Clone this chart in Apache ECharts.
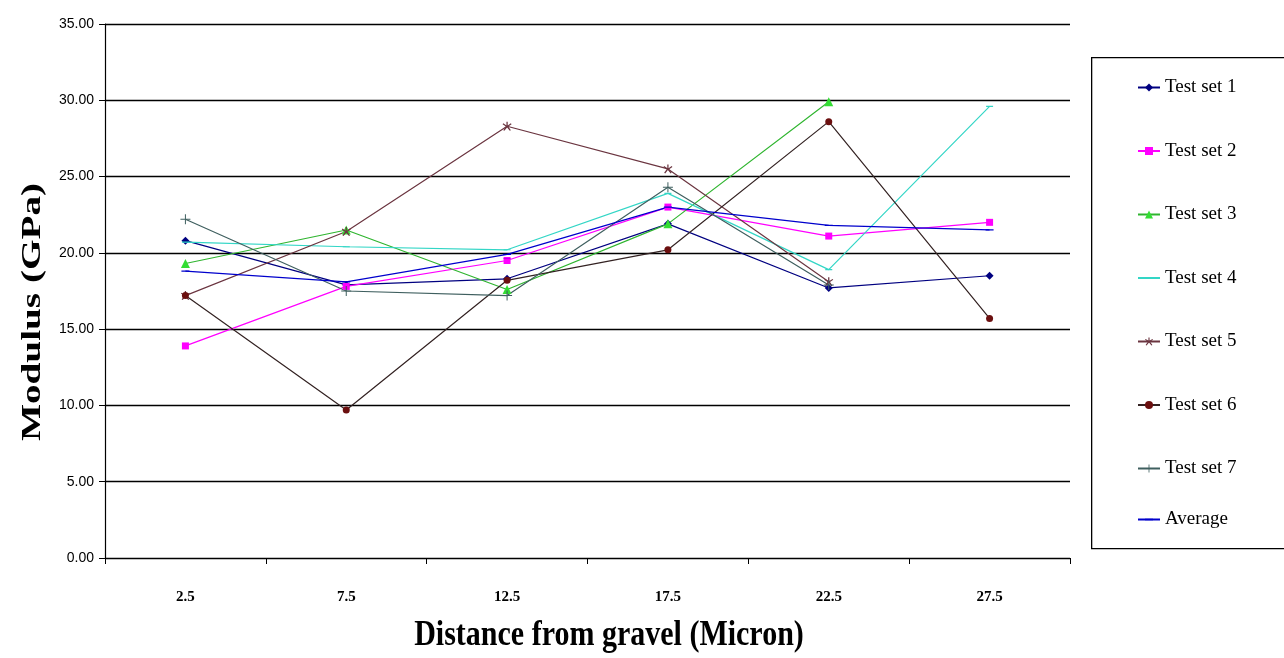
<!DOCTYPE html>
<html>
<head>
<meta charset="utf-8">
<title>Modulus vs distance from gravel</title>
<script src="https://cdn.jsdelivr.net/npm/echarts@6/dist/echarts.min.js"></script>
<style>
  html, body { margin: 0; padding: 0; background: #ffffff; }
  #chart { width: 1284px; height: 658px; }
</style>
</head>
<body>
<div id="chart"></div>
<script>
// Distance from gravel (micron) and modulus readings (GPa) per test set
const distances = ['2.5', '7.5', '12.5', '17.5', '22.5', '27.5'];
const testSet1 = [20.8, 17.9, 18.3, 21.9, 17.7, 18.5];
const testSet2 = [13.9, 17.8, 19.5, 23.0, 21.1, 22.0];
const testSet3 = [19.3, 21.5, 17.6, 21.9, 29.9, null];
const testSet4 = [20.7, 20.4, 20.2, 23.9, 18.9, 29.6];
const testSet5 = [17.2, 21.4, 28.3, 25.5, 18.1, null];
const testSet6 = [17.2, 9.7, 18.2, 20.2, 28.6, 15.7];
const testSet7 = [22.2, 17.5, 17.2, 24.3, 17.9, null];
const average  = [18.8, 18.1, 19.9, 23.0, 21.8, 21.5];

const seriesNames = ['Test set 1', 'Test set 2', 'Test set 3', 'Test set 4', 'Test set 5', 'Test set 6', 'Test set 7', 'Average'];

const serif = "'Liberation Serif', 'Times New Roman', serif";
const narrowSans = "'Liberation Sans Narrow', 'Liberation Sans', Arial, sans-serif";

// Marker shapes (each path spans a 10x10 box so it keeps its proportions)
const plusPath = 'path://M-0.5,-5H0.5V-0.5H5V0.5H0.5V5H-0.5V0.5H-5V-0.5H-0.5Z';
const starPath = 'path://M-0.6,-5H0.6V-1.2L3.6,-3.4L4.3,-2.5L1.2,-0.2L3.6,3.6L2.6,4.2L0,0.8L-2.6,4.2L-3.6,3.6L-1.2,-0.2L-4.3,-2.5L-3.6,-3.4L-0.6,-1.2Z';
const dashPath = 'path://M-5,-5H5V-4.99H-5Z M-5,-0.8H5V0.8H-5Z M-5,4.99H5V5H-5Z';

function lineSeries(name, data, lineColor, markerColor, symbol, size) {
  return {
    name: name,
    type: 'line',
    data: data,
    symbol: symbol,
    symbolSize: size,
    showAllSymbol: true,
    connectNulls: false,
    lineStyle: { color: lineColor, width: 1.2 },
    itemStyle: { color: markerColor, borderWidth: 0 },
    emphasis: { disabled: true },
    animation: false
  };
}

const legendText = { fontFamily: serif, fontSize: 19, color: '#000', lineHeight: 19 };

const chart = echarts.init(document.getElementById('chart'), null, { renderer: 'canvas' });

chart.setOption({
  backgroundColor: '#ffffff',
  animation: false,
  grid: { left: 105, right: 214, top: 24, bottom: 100 },
  xAxis: {
    type: 'category',
    data: distances,
    boundaryGap: true,
    axisLine: { lineStyle: { color: '#000', width: 1.2 } },
    axisTick: { show: true, alignWithLabel: false, length: 6, lineStyle: { color: '#000' } },
    axisLabel: { fontFamily: serif, fontWeight: 'bold', fontSize: 15, color: '#000', margin: 32 },
    splitLine: { show: false }
  },
  yAxis: {
    type: 'value',
    min: 0,
    max: 35,
    interval: 5,
    axisLine: { show: true, lineStyle: { color: '#000', width: 1.2 } },
    axisTick: { show: true, inside: false, length: 6, lineStyle: { color: '#000' } },
    axisLabel: {
      fontFamily: narrowSans, fontSize: 14, color: '#000', margin: 11,
      formatter: function (v) { return v.toFixed(2); }
    },
    splitLine: { show: true, lineStyle: { color: '#000', width: 1.4 } }
  },
  legend: [{
    orient: 'vertical',
    left: 1137,
    top: 78,
    padding: 0,
    itemGap: 44.5,
    itemWidth: 22,
    itemHeight: 10,
    selectedMode: false,
    textStyle: legendText,
    data: seriesNames.slice(0, 7)
  }, {
    orient: 'vertical',
    left: 1137,
    top: 510,
    padding: 0,
    itemWidth: 22,
    itemHeight: 10,
    selectedMode: false,
    textStyle: legendText,
    data: seriesNames.slice(7)
  }],
  graphic: [
    {
      type: 'rect',
      left: 1091,
      top: 57,
      shape: { width: 240, height: 491 },
      style: { fill: 'transparent', stroke: '#000', lineWidth: 1.3 },
      silent: true,
      z: 0
    },
    {
      // vertical axis title
      type: 'text',
      x: 33,
      y: 312,
      rotation: Math.PI / 2,
      scaleX: 1.4,
      silent: true,
      style: {
        text: 'Modulus (GPa)',
        fontFamily: serif, fontWeight: 'bold', fontSize: 28, fill: '#000',
        align: 'center', verticalAlign: 'middle'
      }
    },
    {
      // horizontal axis title
      type: 'text',
      x: 609,
      y: 636,
      scaleY: 1.2,
      silent: true,
      style: {
        text: 'Distance from gravel (Micron)',
        fontFamily: serif, fontWeight: 'bold', fontSize: 30, fill: '#000',
        align: 'center', verticalAlign: 'middle'
      }
    }
  ],
  series: [
    lineSeries('Test set 1', testSet1, '#000080', '#000080', 'diamond', 8),
    lineSeries('Test set 2', testSet2, '#ff00ff', '#ff00ff', 'rect', 7),
    lineSeries('Test set 3', testSet3, '#2fb52f', '#33dd33', 'triangle', 9),
    lineSeries('Test set 4', testSet4, '#33d6c6', '#33d6c6', dashPath, 7),
    lineSeries('Test set 5', testSet5, '#6b3540', '#6b3540', starPath, 9),
    lineSeries('Test set 6', testSet6, '#332222', '#6b0f0f', 'circle', 7),
    lineSeries('Test set 7', testSet7, '#3f5f5f', '#3f5f5f', plusPath, 10),
    lineSeries('Average', average, '#0000cc', '#0000cc', dashPath, 8)
  ]
});
</script>
</body>
</html>
